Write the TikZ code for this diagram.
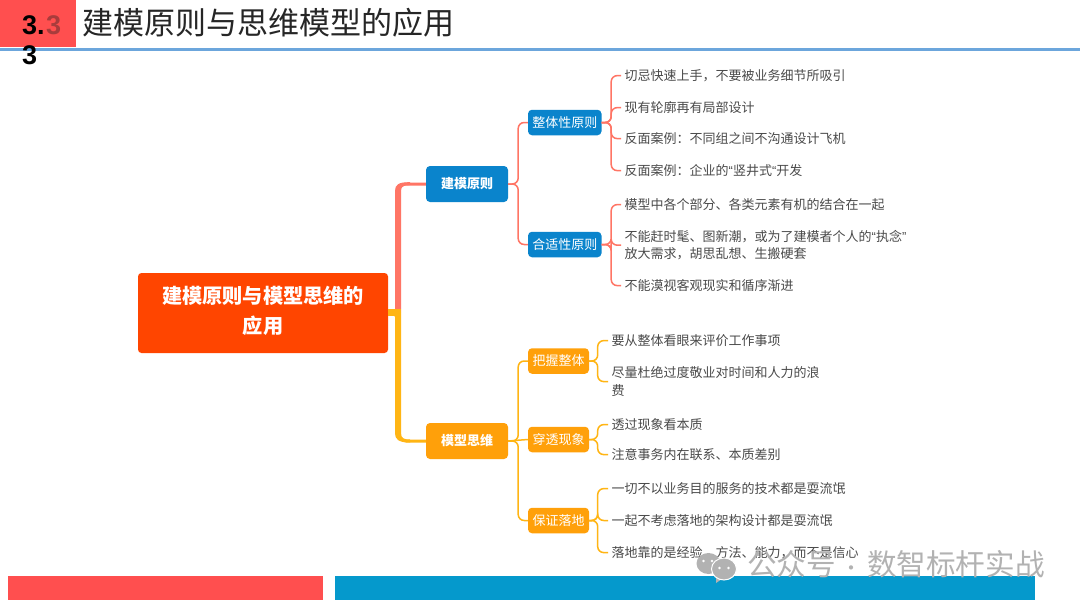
\documentclass[tikz,border=0pt]{standalone}
\usepackage{fontspec}
\setmainfont{Noto Sans CJK SC}
\newfontfamily\latinq{Liberation Sans}
\usetikzlibrary{calc}
\definecolor{hdrred}{HTML}{FF4F4F}
\definecolor{hdrline}{HTML}{6CA6DC}
\definecolor{barblue}{HTML}{0599CC}
\definecolor{rootred}{HTML}{FF4500}
\definecolor{topblue}{HTML}{0A84CC}
\definecolor{toporange}{HTML}{FFA00A}
\definecolor{linered}{HTML}{FF7565}
\definecolor{lineorange}{HTML}{FFB514}
\definecolor{leaftext}{HTML}{4A4A4A}
\definecolor{ghostred}{HTML}{A83C3C}
\newcommand{\fs}[1]{\fontsize{#1}{#1}\selectfont}
\newcommand{\qq}[1]{{\latinq #1}}
\tikzset{
 x=1pt,y=-1pt,
 rootbox/.style={draw=none,fill=rootred,rounded corners=3.5pt,text=white,align=center,
   minimum width=250pt,minimum height=80pt,inner sep=0pt,font=\fs{20.2}\bfseries},
 mainbox/.style={fill=#1,rounded corners=4pt,text=white,align=center,
   minimum width=82pt,minimum height=36pt,inner sep=0pt,font=\fs{13}\bfseries},
 subbox/.style={fill=#1,rounded corners=4pt,text=white,align=center,
   minimum height=25.5pt,inner sep=0pt,font=\fs{13}},
 leaf/.style={anchor=west,inner xsep=3.5pt,inner ysep=0pt,text=leaftext,align=left,font=\fs{13}},
 linkr/.style={draw=linered,line width=1.5pt,rounded corners=6pt},
 linko/.style={draw=lineorange,line width=1.5pt,rounded corners=6pt},
 trunkr/.style={draw=linered,line width=3pt,rounded corners=8pt},
 trunko/.style={draw=lineorange,line width=3pt,rounded corners=8pt},
}
\begin{document}
\begin{tikzpicture}
\useasboundingbox (0,0) rectangle (1080,608);
\fill[white] (0,0) rectangle (1080,608);
% header
\fill[hdrred] (0,0) rectangle (76,47);
\fill[hdrline] (0,48) rectangle (1080,50.5);
\node[anchor=west,inner sep=0pt,text=ghostred,font=\fs{27}\bfseries] (ghost) at (46,25) {\latinq 3};
\node[anchor=west,inner sep=0pt,text=black,font=\fs{27}\bfseries] (num1) at (22,25) {\latinq 3.};
\node[anchor=west,inner sep=0pt,text=black,font=\fs{27}\bfseries] (num2) at (22,55) {\latinq 3};
\node[anchor=west,inner sep=0pt,text=black!85,font=\fs{31}] (title) at (82,23) {建模原则与思维模型的应用};
% bottom bars
\fill[hdrred] (8,576) rectangle (323,600);
\fill[barblue] (335,576) rectangle (1035,600);
% nodes
\node[rootbox] (root) at (263,313) {\begin{tabular}{@{}c@{}}建模原则与模型思维的\\[7pt]应用\end{tabular}};
\node[mainbox=topblue] (m1) at (467,184) {建模原则};
\node[mainbox=toporange] (m2) at (467,441) {模型思维};
\node[subbox=topblue,minimum width=73.5pt] (s1) at (564.75,122.5) {整体性原则};
\node[subbox=topblue,minimum width=73.5pt] (s2) at (564.75,244.5) {合适性原则};
\node[subbox=toporange,minimum width=61pt] (s3) at (558.5,361) {把握整体};
\node[subbox=toporange,minimum width=61pt] (s4) at (558.5,439.5) {穿透现象};
\node[subbox=toporange,minimum width=61pt] (s5) at (558.5,520.5) {保证落地};
% leaves
\node[leaf] (a1) at (621,75.6) {切忌快速上手，不要被业务细节所吸引};
\node[leaf] (a2) at (621,107.6) {现有轮廓再有局部设计};
\node[leaf] (a3) at (621,138.6) {反面案例：不同组之间不沟通设计飞机};
\node[leaf] (a4) at (621,170.6) {反面案例：企业的\qq{“}竖井式\qq{“}开发};
\node[leaf] (b1) at (621,204.6) {模型中各个部分、各类元素有机的结合在一起};
\node[leaf] (b2) at (621,245.2) {不能赶时髦、图新潮，或为了建模者个人的\qq{“}执念\qq{”}\\[4pt]放大需求，胡思乱想、生搬硬套};
\node[leaf] (b3) at (621,285.6) {不能漠视客观现实和循序渐进};
\node[leaf] (c1) at (608,340.6) {要从整体看眼来评价工作事项};
\node[leaf] (c2) at (608,381.6) {尽量杜绝过度敬业对时间和人力的浪\\[5pt]费};
\node[leaf] (d1) at (608,424.6) {透过现象看本质};
\node[leaf] (d2) at (608,454.6) {注意事务内在联系、本质差别};
\node[leaf] (e1) at (608,488.6) {一切不以业务目的服务的技术都是耍流氓};
\node[leaf] (e2) at (608,520.5) {一起不考虑落地的架构设计都是耍流氓};
\node[leaf] (e3) at (608,552.6) {落地靠的是经验、方法、能力，而不是信心};
% trunk connectors: thin path node to node, thickened along the vertical run
\draw[trunkr] (root.east) -- ++(10,0) |- (m1.west);
\fill[linered] (395,312) -- (395,191) .. controls (395,185) and (398,182) .. (410,182.2) -- (410,185.2) .. controls (404,185) and (401,186) .. (401,191) -- (401,312) -- cycle;
\draw[trunko] (root.east) -- ++(10,0) |- (m2.west);
\fill[lineorange] (395,312) -- (395,433) .. controls (395,439) and (398,442.5) .. (410,442.5) -- (410,439.5) .. controls (404,439.5) and (401,438.5) .. (401,433) -- (401,312) -- cycle;
\fill[lineorange] (root.east |- 0,309) rectangle (401,316);
% second level
\draw[linkr] (m1.east) -- ++(10,0) |- (s1.west);
\draw[linkr] (m1.east) -- ++(10,0) |- (s2.west);
\draw[linko] (m2.east) -- ++(10,0) |- (s3.west);
\draw[linko] (m2.east) -- (s4.west);
\draw[linko] (m2.east) -- ++(10,0) |- (s5.west);
% leaves connectors
\foreach \l in {a1,a2,a3,a4} \draw[linkr] (s1.east) -- ++(9.5,0) |- (\l.west);
\foreach \l in {b1,b2,b3} \draw[linkr] (s2.east) -- ++(9.5,0) |- (\l.west);
\foreach \l in {c1,c2} \draw[linko] (s3.east) -- ++(8.5,0) |- (\l.west);
\foreach \l in {d1,d2} \draw[linko] (s4.east) -- ++(8.5,0) |- (\l.west);
\foreach \l in {e1,e2,e3} \draw[linko] (s5.east) -- ++(8.5,0) |- (\l.west);
% watermark
\fill[black!30] (708.5,563.5) ellipse (12 and 10.5);
\fill[white] (703.5,561) circle (1.4) (712,561) circle (1.4);
\fill[black!30] (716,578) -- (716,583) -- (722,579) -- cycle;
\filldraw[fill=black!30,draw=white,line width=1pt] (724,569) ellipse (12.5 and 11);
\fill[white] (719.5,568) circle (1.4) (728.5,568) circle (1.4);
\node[anchor=west,inner sep=0pt,text=black!30,font=\fs{29.6}] (wm) at (747,564) {公众号\makebox[31pt]{\fs{20}·}数智标杆实战};
\end{tikzpicture}
\end{document}
